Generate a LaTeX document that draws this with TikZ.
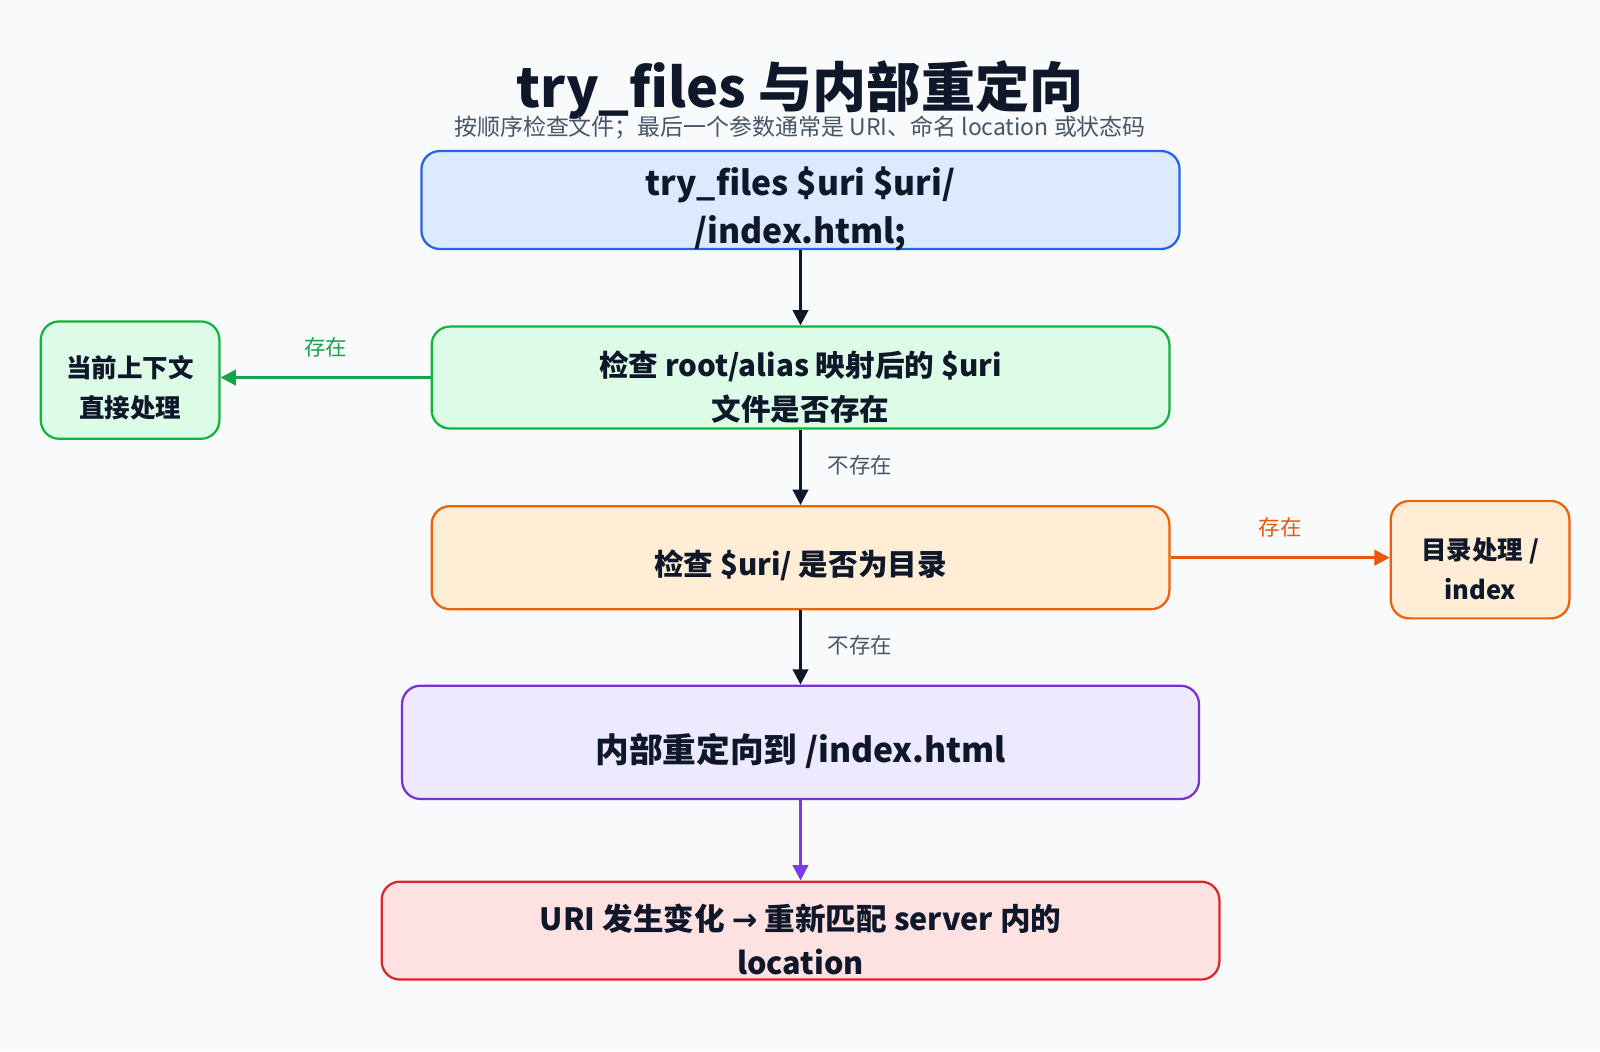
\documentclass[tikz,border=0pt]{standalone}
\usepackage{fontspec}
\setmainfont{Noto Sans CJK SC}
\usetikzlibrary{arrows.meta}
\definecolor{bg}{HTML}{F8FAFC}
\definecolor{ink}{HTML}{0F172A}
\definecolor{sub}{HTML}{475569}
\definecolor{bF}{HTML}{DBEAFE}\definecolor{bD}{HTML}{2563EB}
\definecolor{gF}{HTML}{DCFCE7}\definecolor{gD}{HTML}{16A34A}
\definecolor{oF}{HTML}{FFEDD5}\definecolor{oD}{HTML}{EA580C}
\definecolor{pF}{HTML}{EDE9FE}\definecolor{pD}{HTML}{7C3AED}
\definecolor{rF}{HTML}{FEE2E2}\definecolor{rD}{HTML}{DC2626}
\tikzset{
 box/.style={draw, line width=2.2pt, rounded corners=18pt, inner sep=0pt},
 txt/.style={align=center, font=\fontsize{29}{43}\selectfont\bfseries, text=ink},
 arr/.style={line width=3pt, -{Triangle[length=15pt,width=15pt]}},
 lab/.style={font=\fontsize{21}{24}\selectfont}
}
\begin{document}
\begin{tikzpicture}[x=1pt,y=-1pt]
\fill[bg] (0,0) rectangle (1568,1030);
\useasboundingbox (0,0) rectangle (1568,1030);
\node[font=\fontsize{53}{56}\selectfont\bfseries, text=ink] (title) at (784,88) {try\_files 与内部重定向};
\node[font=\fontsize{22.5}{24}\selectfont, text=sub] (subt) at (784,125) {按顺序检查文件；最后一个参数通常是 URI、命名 location 或状态码};
\node[box, fill=bF, draw=bD, minimum width=743pt, minimum height=96pt] (b1) at (784.5,196) {};
\node[txt, font=\fontsize{33}{47}\selectfont\bfseries] (t1) at (784.5,205) {try\_files \$uri \$uri/\\/index.html;};
\node[box, fill=gF, draw=gD!80!green, minimum width=723pt, minimum height=100pt] (b2) at (784.5,370) {};
\node[txt] (t2) at (784.5,379) {检查 root/alias 映射后的 \$uri\\文件是否存在};
\node[box, fill=gF, draw=gD!80!green, minimum width=175pt, minimum height=115pt] (l) at (127.5,372.5) {};
\node[txt, font=\fontsize{25}{39}\selectfont\bfseries] (tl) at (127.5,380) {当前上下文\\直接处理};
\node[box, fill=oF, draw=oD!80!orange, minimum width=723pt, minimum height=101pt] (b3) at (784.5,546.5) {};
\node[txt] (t3) at (784.5,554) {检查 \$uri/ 是否为目录};
\node[box, fill=oF, draw=oD!80!orange, minimum width=175pt, minimum height=115pt] (r) at (1450.5,548.5) {};
\node[txt, font=\fontsize{25}{39}\selectfont\bfseries] (tr) at (1450.5,557) {目录处理 /\\index};
\node[box, fill=pF, draw=pD!80!violet, minimum width=781pt, minimum height=111pt] (b4) at (784.5,727.5) {};
\node[txt, font=\fontsize{33}{40}\selectfont\bfseries] (t4) at (784.5,736) {内部重定向到 /index.html};
\node[box, fill=rF, draw=rD, minimum width=821pt, minimum height=96pt] (b5) at (784.5,912) {};
\node[txt, font=\fontsize{30}{43}\selectfont\bfseries] (t5) at (784.5,921) {URI 发生变化 {\fontspec{DejaVu Sans}→} 重新匹配 server 内的\\location};
\draw[arr, ink] (b1) -- (b2);
\draw[arr, ink] (b2) -- (b3) node[pos=0.47, right=22pt, lab, text=sub] {不存在};
\draw[arr, ink] (b3) -- (b4) node[pos=0.47, right=22pt, lab, text=sub] {不存在};
\draw[arr, pD] (b4) -- (b5);
\draw[arr, gD] (b2.west) -- (l.east |- b2.west) node[midway, above=15pt, lab, text=gD] {存在};
\draw[arr, oD] (b3.east) -- (r.west |- b3.east) node[midway, above=15pt, lab, text=oD] {存在};
\end{tikzpicture}
\end{document}
